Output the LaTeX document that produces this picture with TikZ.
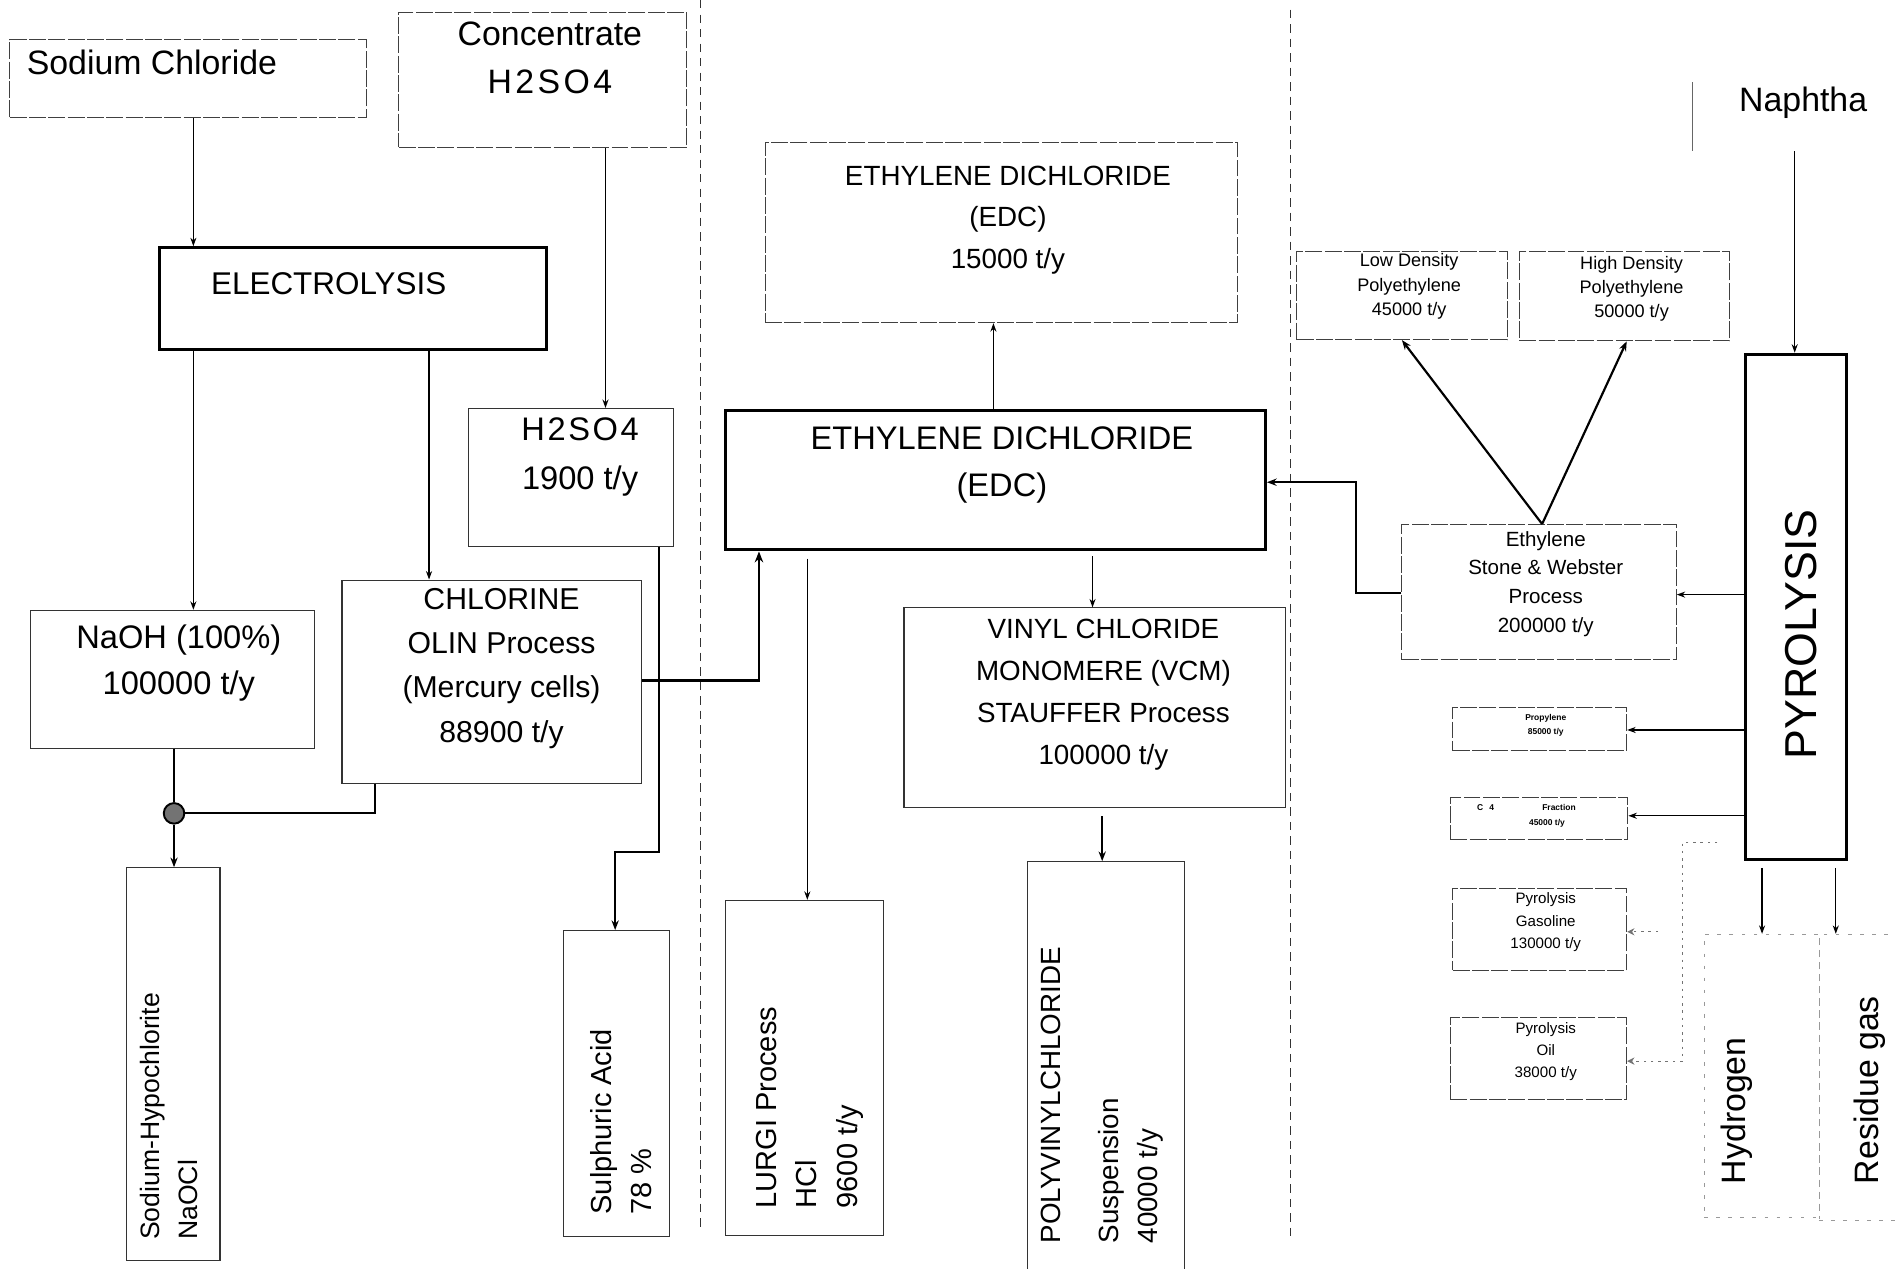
\documentclass[tikz,border=0pt]{standalone}
\usepackage{fontspec}
\setmainfont{Liberation Sans}
\usetikzlibrary{arrows.meta,fit}
\newcommand\fsz[2]{\fontsize{#1pt}{#2pt}\selectfont}
\begin{document}
\begin{tikzpicture}[x=1pt,y=-1pt,
  box/.style={draw=black!80, line width=0.9pt, inner sep=0pt},
  dbox/.style={draw=black!75, line width=0.8pt, dash pattern=on 14pt off 2pt, inner sep=0pt},
  thickbox/.style={draw=black, line width=2.6pt, inner sep=0pt},
  faintbox/.style={draw=black!40, line width=0.6pt, dash pattern=on 3pt off 7pt, inner sep=0pt},
  lbl/.style={inner sep=0pt, align=center, text=black},
  arr/.style={-{Stealth[length=7pt,width=5pt]}, line width=1.1pt},
  marr/.style={-{Stealth[length=8pt,width=6pt]}, line width=1.6pt},
  tarr/.style={-{Stealth[length=9pt,width=7pt]}, line width=2.2pt},
  plain/.style={line width=1.6pt},
  faintarr/.style={-{Stealth[length=6pt,width=6pt]}, draw=black!55, line width=0.7pt, dash pattern=on 2pt off 4pt},
  sepline/.style={draw=black!80, line width=0.8pt, dash pattern=on 7pt off 5pt},
  jdot/.style={circle, minimum size=17pt, inner sep=0pt, fill=black!55, draw=black, line width=1.6pt}
]
\useasboundingbox (0,0) rectangle (1568,1050);

% helper coordinates (x positions of vertical connectors, y positions of horizontal ones)
\coordinate (c160) at (160,0);
\coordinate (c355) at (355,0);
\coordinate (c501) at (501,0);
\coordinate (c545) at (545,0);
\coordinate (k1) at (509,705);
\coordinate (c310) at (310,0);
\coordinate (k2) at (628,563);
\coordinate (c822) at (822,0);
\coordinate (c668) at (668,0);
\coordinate (c904) at (904,0);
\coordinate (c912) at (912,0);
\coordinate (c1276) at (1276,0);
\coordinate (c1160) at (1160,0);
\coordinate (c1346) at (1346,0);
\coordinate (k3) at (1122,399);
\coordinate (k4) at (0,491);
\coordinate (k5) at (0,492);
\coordinate (k6) at (0,604);
\coordinate (k7) at (0,675);
\coordinate (c1458) at (1458,0);
\coordinate (c1519) at (1519,0);
\coordinate (nstart) at (1485,125);
\coordinate (gstart) at (1372,771);
\coordinate (ostart) at (1421,697);
\coordinate (obend) at (1392,697);
\coordinate (obend2) at (1392,878);

% separators
\coordinate (s1a) at (580,0);   \coordinate (s1b) at (580,1015);
\coordinate (s2a) at (1068,8);  \coordinate (s2b) at (1068,1025);
\draw[sepline] (s1a) -- (s1b);
\draw[sepline] (s2a) -- (s2b);
\coordinate (na1) at (1400,68); \coordinate (na2) at (1400,125);
\draw[draw=black!60, line width=0.7pt] (na1) -- (na2);

% boxes
\node[dbox, fit={(8,33)(303,97)}] (nacl) {};
\node[dbox, fit={(330,10)(568,122)}] (conc) {};
\node[thickbox, fit={(132,205)(452,289)}] (elec) {};
\node[box, fit={(25,505)(260,619)}] (naoh) {};
\node[box, fit={(283,480)(531,648)}] (chlor) {};
\node[box, fit={(388,338)(557,452)}] (hso) {};
\node[box, fit={(105,718)(182,1043)}] (naocl) {};
\node[box, fit={(466,770)(554,1023)}] (sulph) {};
\node[thickbox, fit={(600,340)(1047,455)}] (edc) {};
\node[dbox, fit={(633,118)(1024,267)}] (edcs) {};
\node[box, fit={(600,745)(731,1022)}] (lurgi) {};
\node[box, fit={(748,503)(1064,668)}] (vcm) {};
\node[box, fit={(850,713)(980,1056)}] (pvc) {};
\node[dbox, fit={(1073,208)(1247,281)}] (ldpe) {};
\node[dbox, fit={(1257,208)(1431,282)}] (hdpe) {};
\node[dbox, fit={(1160,434)(1387,546)}] (eth) {};
\node[thickbox, line width=2.3pt, fit={(1444,293)(1528,711)}] (pyro) {};
\node[dbox, fit={(1202,585)(1346,621)}] (prop) {};
\node[dbox, fit={(1200,660)(1347,695)}] (cfour) {};
\node[dbox, fit={(1202,735)(1346,803)}] (pgas) {};
\node[dbox, fit={(1200,842)(1346,910)}] (poil) {};
\node[faintbox, fit={(1410,773)(1505,1007)}] (hyd) {};
\node[faintbox, fit={(1505,773)(1590,1010)}] (res) {};

% junction
\node[jdot] (jn) at (144,673) {};

% texts
\node[lbl, anchor=west, font=\fsz{28}{34}] (tnacl) at (22,52) {Sodium Chloride};
\node[lbl, font=\fsz{28}{40}] (tconc) at (455,48) {Concentrate\\{\addfontfeatures{LetterSpace=10}H2SO4}};
\node[lbl, font=\fsz{26}{30}] (telec) at (272,235) {ELECTROLYSIS};
\node[lbl, font=\fsz{27}{38}] (tnaoh) at (148,549) {NaOH (100\%)\\100000 t/y};
\node[lbl, font=\fsz{25}{36.7}] (tchl) at (415,553) {CHLORINE\\OLIN Process\\(Mercury cells)\\88900 t/y};
\node[lbl, font=\fsz{27}{40}] (thso) at (480,378) {{\addfontfeatures{LetterSpace=8}H2SO4}\\1900 t/y};
\node[lbl, font=\fsz{27}{39}] (tedc) at (829,385) {ETHYLENE DICHLORIDE\\(EDC)};
\node[lbl, font=\fsz{23}{34.5}] (tedcs) at (834,182) {ETHYLENE DICHLORIDE\\(EDC)\\15000 t/y};
\node[lbl, font=\fsz{23}{34.7}] (tvcm) at (913,575) {VINYL CHLORIDE\\MONOMERE (VCM)\\STAUFFER Process\\100000 t/y};
\node[lbl, font=\fsz{17}{23.7}] (teth) at (1279,483) {Ethylene\\Stone \& Webster\\Process\\200000 t/y};
\node[lbl, font=\fsz{15}{20}] (tldpe) at (1166,237) {Low Density\\Polyethylene\\45000 t/y};
\node[lbl, font=\fsz{15}{20}] (thdpe) at (1350,239) {High Density\\Polyethylene\\50000 t/y};
\node[lbl, font=\bfseries\fsz{7}{12}] (tprop) at (1279,600) {Propylene\\85000 t/y};
\node[lbl, font=\bfseries\fsz{7}{12}] (tcfa) at (1263,668) {C\hspace{5pt}4\hspace{40pt}Fraction};
\node[lbl, font=\bfseries\fsz{7}{12}] (tcfb) at (1280,681) {45000 t/y};
\node[lbl, font=\fsz{12.5}{18.5}] (tpgas) at (1279,763) {Pyrolysis\\Gasoline\\130000 t/y};
\node[lbl, font=\fsz{12.5}{18.5}] (tpoil) at (1279,870) {Pyrolysis\\Oil\\38000 t/y};
\node[lbl, font=\fsz{28}{30}] (tnaph) at (1492,85) {Naphtha};
\node[lbl, rotate=90, font=\fsz{37}{40}] (tpyro) at (1490,525) {PYROLYSIS};
\node[lbl, rotate=90, anchor=west, align=left, font=\fsz{22}{31}] (tnaocl) at (140,1026) {Sodium-Hypochlorite\\NaOCl};
\node[lbl, rotate=90, anchor=west, align=left, font=\fsz{24}{33}] (tsulph) at (514,1005) {Sulphuric Acid\\78 \%};
\node[lbl, rotate=90, anchor=west, align=left, font=\fsz{24}{33.5}] (tlurgi) at (670,1000) {LURGI Process\\HCl\\9600 t/y};
\node[lbl, rotate=90, anchor=west, align=left, font=\fsz{23}{32}] (tpvc) at (912,1029) {POLYVINYLCHLORIDE\\[16pt]Suspension\\40000 t/y};
\node[lbl, rotate=90, anchor=west, font=\fsz{28}{30}] (thyd) at (1437,980) {Hydrogen};
\node[lbl, rotate=90, anchor=west, font=\fsz{28}{30}] (tres) at (1547,980) {Residue gas};

% connectors
\draw[arr] (nacl.south -| c160) -- (elec.north -| c160);
\draw[arr] (elec.south -| c160) -- (naoh.north -| c160);
\draw[arr] (elec.south -| c355) -- (chlor.north -| c355);
\draw[arr] (conc.south -| c501) -- (hso.north -| c501);
\draw[marr] (hso.south -| c545) |- (k1) -- (sulph.north -| k1);
\draw[plain] (naoh.south -| jn) -- (jn);
\draw[plain] (chlor.south -| c310) |- (jn);
\draw[marr] (jn) -- (naocl.north -| jn);
\draw[tarr] (chlor.east |- k2) -| (edc.south -| k2);
\draw[arr] (edc.north -| c822) -- (edcs.south -| c822);
\draw[arr, shorten <=6pt] (edc.south -| c668) -- (lurgi.north -| c668);
\draw[arr, shorten <=4pt] (edc.south -| c904) -- (vcm.north -| c904);
\draw[marr, shorten <=7pt] (vcm.south -| c912) -- (pvc.north -| c912);
\draw[tarr, -{Stealth[length=8pt,width=6pt]}, line width=1.8pt] (eth.north -| c1276) -- (ldpe.south -| c1160);
\draw[tarr, -{Stealth[length=8pt,width=6pt]}, line width=1.8pt] (eth.north -| c1276) -- (hdpe.south -| c1346);
\draw[tarr, -{Stealth[length=8pt,width=6pt]}, line width=1.8pt] (eth.west |- k4) -| (k3) -- (edc.east |- k3);
\draw[arr] (nstart) -- (pyro.north -| nstart);
\draw[arr] (pyro.west |- k5) -- (eth.east |- k5);
\draw[arr] (pyro.west |- k6) -- (prop.east |- k6);
\draw[arr] (pyro.west |- k7) -- (cfour.east |- k7);
\draw[arr, shorten <=6pt] (pyro.south -| c1458) -- (hyd.north -| c1458);
\draw[arr, shorten <=6pt] (pyro.south -| c1519) -- (res.north -| c1519);
\draw[faintarr] (gstart) -- (pgas.east |- gstart);
\draw[faintarr] (ostart) -- (obend) -- (obend2) -- (poil.east |- obend2);
\end{tikzpicture}
\end{document}
